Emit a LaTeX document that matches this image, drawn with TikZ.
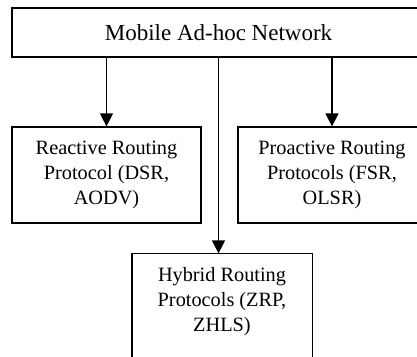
\documentclass[tikz,border=0pt]{standalone}
\usepackage{fontspec}
\setmainfont{Liberation Serif}
\usetikzlibrary{arrows.meta}
\begin{document}
\begin{tikzpicture}[x=1pt,y=-1pt,
  box/.style={draw, line width=1.2pt, rectangle, align=center, inner sep=0pt,
    font=\fontsize{20.3}{25}\selectfont},
  conn/.style={line width=1.2pt, -{Triangle[width=13pt,length=13pt]}}]
\useasboundingbox (0,0) rectangle (417,356);
\clip (0,0) rectangle (417,356);
\node[box, minimum width=413pt, minimum height=49pt, font=\fontsize{23}{27}\selectfont] (top) at (218.5,32.5) {Mobile Ad-hoc Network};
\node[box, minimum width=189pt, minimum height=96pt] (lft) at (106.5,175) {Reactive Routing\\Protocol (DSR,\\AODV)};
\node[box, minimum width=188pt, minimum height=96pt] (rgt) at (332,175) {Proactive Routing\\Protocols (FSR,\\OLSR)};
\node[box, draw=none, minimum width=179pt, minimum height=96pt] (hyb) at (222,302) {Hybrid Routing\\Protocols (ZRP,\\ZHLS)};
\draw[line width=1.2pt] (hyb.north west) rectangle ([yshift=-20pt]hyb.south east);
\draw[conn] (lft.north |- top.south) -- (lft.north);
\draw[conn] (rgt.north |- top.south) -- (rgt.north);
\draw[conn] (top.south) -- (top.south |- hyb.north);
\end{tikzpicture}
\end{document}
